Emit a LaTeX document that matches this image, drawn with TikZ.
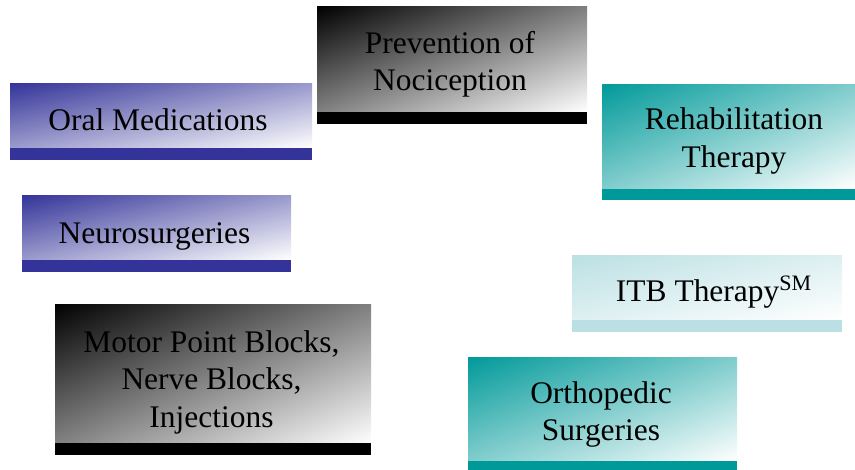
\documentclass[tikz,border=0pt]{standalone}
\usepackage{fontspec}
\setmainfont{Liberation Serif}
\usetikzlibrary{positioning}
\definecolor{navy}{HTML}{333399}
\definecolor{teal}{HTML}{009999}
\definecolor{paleteal}{HTML}{BBE0E3}
\newdimen\boxwd
\newdimen\boxht
\begin{document}
\begin{tikzpicture}[
    box/.style={inner sep=0pt, path picture={
        % diagonal shade, corner to corner
        \pgfextractx{\boxwd}{\pgfpointdiff{\pgfpointanchor{path picture bounding box}{south west}}{\pgfpointanchor{path picture bounding box}{north east}}}
        \pgfextracty{\boxht}{\pgfpointdiff{\pgfpointanchor{path picture bounding box}{south west}}{\pgfpointanchor{path picture bounding box}{north east}}}
        \pgfmathsetmacro\bw{\boxwd}
        \pgfmathsetmacro\bh{\boxht}
        \pgfmathsetmacro\bang{atan(\bh/\bw)}
        \pgfmathsetmacro\bp{1.01*\bw/veclen(\bw,\bh)*\bh}
        \shade[top color=#1, middle color=#1!20, bottom color=white,
            transform canvas={rotate around={\bang:(path picture bounding box.center)}}]
            ([shift={({-\bw pt},{-\bp pt})}]path picture bounding box.center) rectangle
            ([shift={({\bw pt},{\bp pt})}]path picture bounding box.center);
      }},
    label/.style={inner sep=0pt, align=center, anchor=base, font=\fontsize{17.9}{21.3}\selectfont},
    bar/.style={inner sep=0pt, minimum height=0.24cm}
  ]
            \useasboundingbox (0,0) rectangle (17.1,-9.38);
			\node	(prev) at (9.04,-1.18) [box=black, minimum width=5.4cm, minimum height=2.08cm] {};
			\node	(oral) at (3.22,-2.30) [box=navy, minimum width=6.04cm, minimum height=1.28cm] {};
			\node	(rehab) at (14.57,-2.72) [box=teal, minimum width=5.06cm, minimum height=2.08cm] {};
			\node	(neuro) at (3.13,-4.54) [box=navy, minimum width=5.38cm, minimum height=1.28cm] {};
			\node	(itb) at (14.14,-5.74) [box=paleteal, minimum width=5.4cm, minimum height=1.28cm] {};
			\node	(motor) at (4.26,-7.46) [box=black, minimum width=6.32cm, minimum height=2.76cm] {};
			\node	(ortho) at (12.05,-8.17) [box=teal, minimum width=5.38cm, minimum height=2.06cm] {};
			% bars under the boxes
			\node	(prevbar) [bar, below=0pt of prev, fill=black, minimum width=5.4cm] {};
			\node	(oralbar) [bar, below=0pt of oral, fill=navy, minimum width=6.04cm] {};
			\node	(rehabbar) [bar, below=0pt of rehab, fill=teal, minimum width=5.06cm, minimum height=0.22cm] {};
			\node	(neurobar) [bar, below=0pt of neuro, fill=navy, minimum width=5.38cm] {};
			\node	(itbbar) [bar, below=0pt of itb, fill=paleteal, minimum width=5.4cm] {};
			\node	(motorbar) [bar, below=0pt of motor, fill=black, minimum width=6.32cm] {};
			\node	(orthobar) [bar, below=0pt of ortho, fill=teal, minimum width=5.38cm, minimum height=0.18cm] {};
			% texts, placed on the last baseline
			\node	(prevtext) at (9.00,-1.814) [label] {Prevention of\\Nociception};
			\node	(oraltext) at (3.16,-2.60) [label] {Oral Medications};
			\node	(rehabtext) at (14.68,-3.34) [label] {Rehabilitation\\Therapy};
			\node	(neurotext) at (3.09,-4.866) [label] {Neurosurgeries};
			\node	(itbtext) at (14.28,-6.034) [label] {ITB Therapy\textsuperscript{SM}};
			\node	(motortext) at (4.23,-8.54) [label] {Motor Point Blocks,\\Nerve Blocks,\\Injections};
			\node	(orthotext) at (12.02,-8.814) [label] {Orthopedic\\Surgeries};
		\end{tikzpicture}
\end{document}
